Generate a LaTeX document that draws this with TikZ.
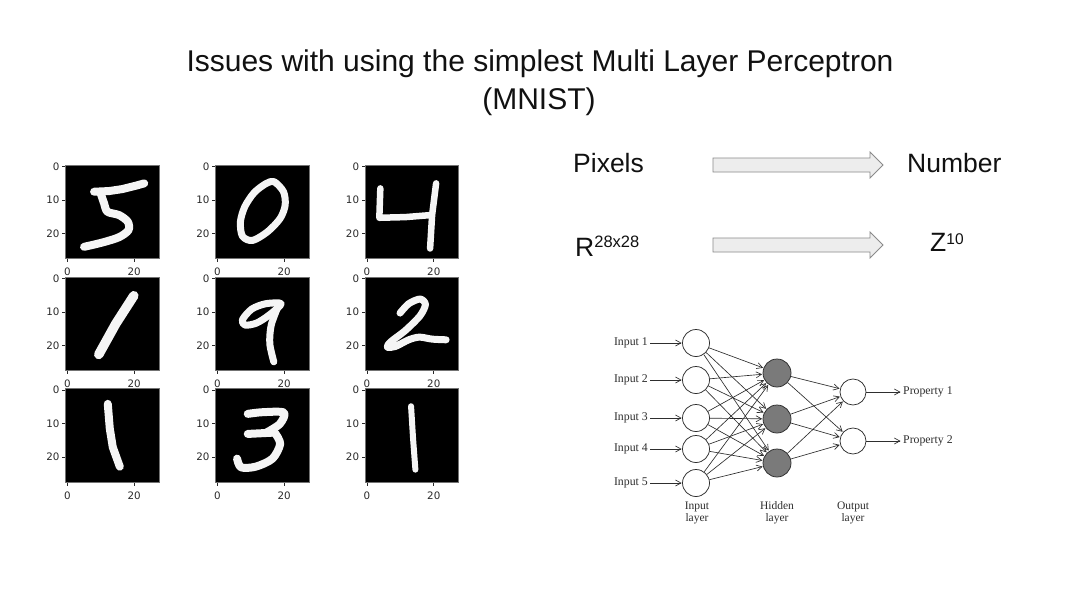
\documentclass[tikz,border=0pt]{standalone}
\usepackage{fontspec}
\setmainfont{Liberation Sans}
\newfontfamily\dvs{DejaVu Sans}
\newfontfamily\tnr{Liberation Serif}
\usetikzlibrary{arrows.meta,calc}
\definecolor{ink}{HTML}{111111}
\definecolor{tickc}{HTML}{2A2A2A}
\definecolor{arrfill}{HTML}{EDEDED}
\definecolor{arrline}{HTML}{8A8A8A}
\definecolor{hidfill}{HTML}{7A7A7A}
\definecolor{netline}{HTML}{2E2E2E}
\tikzset{
  titletext/.style={font=\fontsize{30}{37}\selectfont, text=ink, inner sep=0pt},
  bigtext/.style={font=\fontsize{26.5}{30}\selectfont, text=ink, inner sep=0pt},
  ticklab/.style={font=\dvs\fontsize{10.3}{12}\selectfont, text=tickc, inner sep=0pt},
  tickmark/.style={draw=tickc, line width=0.7pt},
  imgbox/.style={fill=black, draw=black!55, line width=0.7pt},
  digit/.style={draw=white!96!black, line width=8pt, line cap=round, line join=round},
  blockarrow/.style={fill=arrfill, draw=arrline, line width=0.8pt, line join=miter},
  neuron/.style={circle, draw=netline, fill=white, line width=0.75pt, minimum size=27pt, inner sep=0pt},
  hneuron/.style={neuron, fill=hidfill, minimum size=28pt},
  netlab/.style={font=\tnr\fontsize{11.8}{12.5}\selectfont, text=netline, inner sep=2pt},
  layerlab/.style={font=\tnr\fontsize{11.5}{12.5}\selectfont, text=netline, align=center, inner sep=0pt},
  edge/.style={draw=netline, line width=0.65pt, -{Straight Barb[length=5.5pt,width=6pt]}, shorten >=0.5pt}
}
% #1 name, #2 x of image top-left, #3 y of image top-left, #4 digit strokes
\newcommand{\mnistplot}[4]{%
  \begin{scope}[shift={(#2,#3)}, x=3.34pt, y=-3.34pt]
    \foreach \t/\v in {0/0.5,10/10.5,20/20.5}{
      \draw[tickmark] (0,\v) -- (-1.1,\v);
      \node[ticklab, anchor=east] (#1-y\t) at (-1.8,\v) {\t};
    }
    \foreach \t/\v in {0/0.5,20/20.5}{
      \draw[tickmark] (\v,28) -- (\v,29.1);
      \node[ticklab, anchor=north] (#1-x\t) at (\v,30.8) {\t};
    }
    \draw[imgbox] (0,0) rectangle (28,28);
    \begin{scope}
      \clip (0,0) rectangle (28,28);
      #4
    \end{scope}
  \end{scope}
}
\begin{document}
\begin{tikzpicture}[x=1pt, y=-1pt]
\useasboundingbox[fill=white] (0,0) rectangle (1080,608);

% title
\node[titletext, anchor=base] (title1) at (540,71.7) {Issues with using the simplest Multi Layer Perceptron};
\node[titletext, anchor=base] (title2) at (539,109) {(MNIST)};

% MNIST grid
\mnistplot{p11}{65.7}{165}{
  \draw[digit] (8.5,8) -- (13,7.8) -- (17,7.2) -- (21,6.2) -- (23.5,5.5);
  \draw[digit] plot[smooth] coordinates {(10.5,8.5) (11.5,11.5) (12.5,14) (16,15) (18.6,17) (18.8,19.5) (16,21.6) (11,23.2) (5.5,24.5)};
}
\mnistplot{p12}{215.7}{165}{
  \draw[digit, line width=7pt] plot[smooth cycle] coordinates {(17.5,5) (20.3,8) (20.8,12) (19.3,16) (15.5,20) (11,22.6) (8,21.3) (7.4,17) (8.7,12.5) (11.5,8.3) (15,5.6)};
}
\mnistplot{p13}{365.3}{165}{
  \draw[digit, line width=6.5pt] (4.5,7) -- (4.2,15.8) -- (12,15.6) -- (19.5,15);
  \draw[digit, line width=6.5pt] (21.2,5.5) -- (20,15) -- (19.4,25);
}
\mnistplot{p21}{65.7}{277}{
  \draw[digit, line width=9.5pt] (20.4,5.6) -- (15,14) -- (9.9,23.2);
}
\mnistplot{p22}{215.7}{277}{
  \draw[digit, line width=7pt] plot[smooth cycle] coordinates {(19.6,8) (15,8) (10.8,9.6) (8,12.8) (8.8,14.4) (12.2,13.8) (16,11.4)};
  \draw[digit, line width=7pt] plot[smooth] coordinates {(18.6,9) (16.6,14.5) (16.2,20) (17.4,25.4)};
}
\mnistplot{p23}{365.3}{277}{
  \draw[digit, line width=7pt] plot[smooth] coordinates {(10.4,10.8) (13,8) (16.4,6.6) (18,8.2) (16.4,11.6) (12,16) (7.6,19.4) (6.6,21) (9,20.8) (13,18.8) (16.2,18) (20,18.6) (24.2,18.8)};
}
\mnistplot{p31}{65.7}{388.5}{
  \draw[digit] (12.6,4.6) -- (13.2,12) -- (14.1,17.6) -- (16.2,23.4);
}
\mnistplot{p32}{215.7}{388.5}{
  \draw[digit] plot[smooth] coordinates {(9.6,7.6) (14,7.1) (20.4,7.2) (19.2,10.6) (15,13.3)};
  \draw[digit] (9.6,13.6) -- (17.6,13.2);
  \draw[digit] plot[smooth] coordinates {(17.8,13.4) (19.3,16.6) (17,21) (12,23.4) (7.6,23.6) (6.4,21)};
}
\mnistplot{p33}{365.3}{388.5}{
  \draw[digit, line width=6pt] (13.7,5.3) -- (14.3,15) -- (15,24.3);
}

% right top: mapping
\node[bigtext, anchor=base west] (pix) at (573,172) {Pixels};
\node[bigtext, anchor=base west] (num) at (907,172) {Number};
\node[bigtext, anchor=base west] (rdom) at (575,256.7) {R\raisebox{9pt}{\fontsize{16.5}{16.5}\selectfont 28x28}};
\node[bigtext, anchor=base west] (zcod) at (930,251.7) {Z\raisebox{7.5pt}{\fontsize{15.5}{15.5}\selectfont 10}};

\coordinate (a1s) at (713,165);
\coordinate (a1e) at (883,165);
\coordinate (a2s) at (713,245);
\coordinate (a2e) at (883,245);
\foreach \a in {1,2}{
  \draw[blockarrow] ($(a\a s)+(0,-7)$) -- ($(a\a e)+(-13,-7)$) -- ($(a\a e)+(-13,-13)$) -- (a\a e)
     -- ($(a\a e)+(-13,13)$) -- ($(a\a e)+(-13,7)$) -- ($(a\a s)+(0,7)$) -- cycle;
}

% neural network
\node[neuron] (in1) at (696,343) {};
\node[neuron] (in2) at (696,380) {};
\node[neuron] (in3) at (696,418) {};
\node[neuron] (in4) at (696,449) {};
\node[neuron] (in5) at (696,483) {};
\node[hneuron] (h1) at (777,373) {};
\node[hneuron] (h2) at (777,419) {};
\node[hneuron] (h3) at (777,463) {};
\node[neuron, minimum size=26pt] (o1) at (853,392) {};
\node[neuron, minimum size=26pt] (o2) at (853,441) {};

\foreach \i in {1,...,5}{
  \node[netlab, anchor=east] (lab\i) at (650,0 |- in\i) {Input \i};
  \draw[edge] (lab\i) -- (in\i);
}
\foreach \i in {1,...,5}{
  \foreach \j in {1,2,3}{
    \draw[edge] (in\i) -- (h\j);
  }
}
\foreach \j in {1,2,3}{
  \foreach \k in {1,2}{
    \draw[edge] (h\j) -- (o\k);
  }
}
\node[netlab, anchor=west] (prop1) at (901,392) {Property 1};
\node[netlab, anchor=west] (prop2) at (901,441) {Property 2};
\draw[edge] (o1) -- (prop1);
\draw[edge] (o2) -- (prop2);

\node[layerlab, anchor=base] (linput) at (697,521.5) {Input\\layer};
\node[layerlab, anchor=base] (lhidden) at (777,521.5) {Hidden\\layer};
\node[layerlab, anchor=base] (loutput) at (853,521.5) {Output\\layer};
\end{tikzpicture}
\end{document}
